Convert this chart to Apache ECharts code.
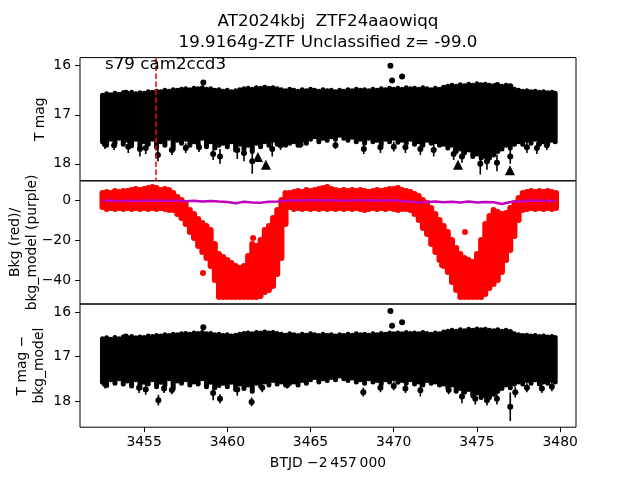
<!DOCTYPE html>
<html><head><meta charset="utf-8">
<script src="https://cdn.jsdelivr.net/npm/echarts@6/dist/echarts.min.js"></script>
<style>html,body{margin:0;padding:0;background:#fff}#c{width:640px;height:480px}</style>
</head><body><div id="c"></div>
<script>
// ---- Panel 1: T mag band [t, upper edge (brighter), lower edge (fainter)] ----
const band1 = [
[3452.50,16.60,17.55],[3452.75,16.57,17.62],[3453.00,16.59,17.50],[3453.25,16.56,17.58],[3453.50,16.58,17.48],
[3453.75,16.55,17.60],[3454.00,16.56,17.52],[3454.25,16.54,17.63],[3454.50,16.57,17.50],[3454.75,16.55,17.68],
[3455.00,16.56,17.55],[3455.25,16.53,17.60],[3455.50,16.54,17.50],[3455.75,16.52,17.66],[3456.00,16.53,17.55],
[3456.25,16.50,17.62],[3456.50,16.52,17.48],[3456.75,16.49,17.70],[3457.00,16.50,17.52],[3457.25,16.48,17.58],
[3457.50,16.47,17.50],[3457.75,16.49,17.62],[3458.00,16.46,17.55],[3458.25,16.47,17.60],[3458.50,16.45,17.48],
[3458.75,16.48,17.65],[3459.00,16.47,17.55],[3459.25,16.50,17.68],[3459.50,16.49,17.62],[3459.75,16.52,17.58],
[3460.00,16.50,17.65],[3460.25,16.53,17.55],[3460.50,16.51,17.72],[3460.75,16.49,17.60],[3461.00,16.47,17.70],
[3461.25,16.46,17.62],[3461.50,16.48,17.75],[3461.75,16.45,17.58],[3462.00,16.46,17.65],[3462.25,16.44,17.55],
[3462.50,16.46,17.62],[3462.75,16.45,17.52],[3463.00,16.47,17.60],[3463.25,16.49,17.55],[3463.50,16.51,17.62],
[3463.75,16.48,17.58],[3464.00,16.50,17.55],[3464.25,16.52,17.62],[3464.50,16.49,17.52],[3464.75,16.51,17.58],
[3465.00,16.48,17.50],[3465.25,16.50,17.45],[3465.50,16.52,17.55],[3465.75,16.49,17.48],[3466.00,16.51,17.52],
[3466.25,16.50,17.45],[3466.50,16.53,17.50],[3466.75,16.50,17.42],[3467.00,16.52,17.48],[3467.25,16.49,17.52],
[3467.50,16.51,17.46],[3467.75,16.48,17.55],[3468.00,16.50,17.50],[3468.25,16.49,17.58],[3468.50,16.51,17.48],
[3468.75,16.48,17.55],[3469.00,16.50,17.52],[3469.25,16.47,17.60],[3469.50,16.49,17.50],[3469.75,16.46,17.55],
[3470.00,16.48,17.48],[3470.25,16.46,17.56],[3470.50,16.48,17.52],[3470.75,16.45,17.58],[3471.00,16.47,17.50],
[3471.25,16.46,17.60],[3471.50,16.48,17.55],[3471.75,16.45,17.62],[3472.00,16.47,17.52],[3472.25,16.49,17.58],
[3472.50,16.46,17.55],[3472.75,16.48,17.62],[3473.00,16.44,17.60],[3473.25,16.42,17.68],[3473.50,16.40,17.62],
[3473.75,16.42,17.75],[3474.00,16.39,17.70],[3474.25,16.41,17.78],[3474.50,16.38,17.72],[3474.75,16.40,17.85],
[3475.00,16.37,17.80],[3475.25,16.39,17.88],[3475.50,16.38,17.85],[3475.75,16.40,17.88],[3476.00,16.41,17.82],
[3476.25,16.39,17.75],[3476.50,16.42,17.70],[3476.75,16.40,17.62],[3477.00,16.43,17.68],[3477.25,16.48,17.60],
[3477.50,16.50,17.55],[3477.75,16.52,17.60],[3478.00,16.51,17.52],[3478.25,16.53,17.58],[3478.50,16.52,17.50],
[3478.75,16.54,17.60],[3479.00,16.53,17.55],[3479.25,16.55,17.58],[3479.50,16.54,17.52],[3479.70,16.56,17.55]
];
// error-bar tails below the band: [t, point mag, tail mag]
const spikes1 = [
[3452.65,17.60,17.70],[3453.20,17.62,17.72],[3454.05,17.65,17.78],[3454.75,17.70,17.85],[3455.10,17.68,17.80],
[3455.83,17.82,17.95],[3456.67,17.72,17.82],[3457.50,17.68,17.78],[3458.30,17.66,17.76],[3459.15,17.80,17.92],
[3459.56,17.85,18.00],[3460.60,17.72,17.90],[3461.00,17.78,17.95],[3461.50,17.95,18.20],[3462.70,17.70,17.85],
[3463.20,17.62,17.72],[3464.40,17.60,17.68],[3466.50,17.62,17.70],[3468.20,17.70,17.80],[3469.20,17.66,17.78],
[3470.00,17.65,17.75],[3470.70,17.66,17.78],[3471.60,17.70,17.82],[3472.40,17.72,17.85],[3473.60,17.80,17.92],
[3474.10,17.85,17.98],[3475.20,18.00,18.22],[3475.60,17.95,18.12],[3476.20,17.98,18.15],[3477.00,17.85,18.00],
[3478.00,17.66,17.78],[3478.60,17.68,17.80],[3479.20,17.62,17.72]
];
const points1 = [[3453.9,16.55],[3458.56,16.34],[3469.8,16.0],[3469.9,16.3],[3470.5,16.22],[3476.2,16.40],[3477.0,16.42]];
const limits1 = [[3461.84,17.86],[3462.32,18.02],[3473.86,18.02],[3476.98,18.13]];
const markTime = 3455.71;

// ---- Panel 2: background (red) band [t, high, low] and model (purple) ----
const bkg = [
[3452.50,3.5,-3.5],[3452.75,4,-4.5],[3453.00,3.5,-4],[3453.25,4.5,-4.5],[3453.50,4,-4],[3453.75,4.5,-4.5],
[3454.00,4.5,-4],[3454.25,5,-4.5],[3454.50,5.5,-4],[3454.75,5,-4.5],[3455.00,5.5,-4],[3455.25,6,-4.5],
[3455.50,6.5,-4],[3455.75,6,-4.5],[3456.00,5,-4],[3456.25,5.5,-4.5],[3456.50,5,-5],[3456.75,3.5,-5],
[3457.00,1.5,-7],[3457.25,0,-9],[3457.50,-2,-12],[3457.75,-5,-16],[3458.00,-7,-19],[3458.25,-9.5,-23],
[3458.50,-11.5,-26],[3458.75,-13,-29],[3459.00,-15,-33],[3459.25,-22,-40],[3459.50,-27,-48.5],[3459.75,-28.5,-48.5],
[3460.00,-30,-48.5],[3460.25,-31.5,-48.5],[3460.50,-33,-48.5],[3460.75,-34,-48.5],[3461.00,-33,-48.5],[3461.25,-28,-48.5],
[3461.50,-22,-48.5],[3461.75,-23,-48.5],[3462.00,-20,-48],[3462.25,-15,-46],[3462.50,-13,-45],[3462.75,-9,-43],
[3463.00,-5,-37],[3463.25,0,-29],[3463.50,3.5,-12],[3463.75,3.5,-3.5],[3464.00,4,-4.5],[3464.25,4.5,-4],
[3464.50,4,-4.5],[3464.75,5,-4],[3465.00,4.5,-4.5],[3465.25,5,-4],[3465.50,5.5,-4.5],[3465.75,6,-4],
[3466.00,6.5,-4.5],[3466.25,5.5,-4],[3466.50,5,-4.5],[3466.75,4.5,-4],[3467.00,5,-4.5],[3467.25,4.5,-4],
[3467.50,5,-4.5],[3467.75,4.5,-4],[3468.00,5,-4.5],[3468.25,4.5,-5],[3468.50,4,-4.5],[3468.75,4.5,-4],
[3469.00,5,-4.5],[3469.25,4.5,-4],[3469.50,5,-4.5],[3469.75,5.5,-4],[3470.00,5.5,-4.5],[3470.25,6,-5],
[3470.50,5,-4.5],[3470.75,4.5,-4.5],[3471.00,4,-5],[3471.25,3,-7],[3471.50,2,-10],[3471.75,0,-14],
[3472.00,-1.5,-17],[3472.25,-4,-22],[3472.50,-7,-26],[3472.75,-10,-30],[3473.00,-13,-33],[3473.25,-16,-36],
[3473.50,-20,-41],[3473.75,-24,-45],[3474.00,-27,-48.5],[3474.25,-29,-48.5],[3474.50,-30,-48.5],[3474.75,-31,-48.5],
[3475.00,-27,-48.5],[3475.25,-20,-48.5],[3475.50,-12,-47],[3475.75,-8,-44],[3476.00,-5,-42],[3476.25,-6,-40],
[3476.50,-7,-36],[3476.75,-6.5,-30],[3477.00,-4,-25],[3477.25,-1.5,-18],[3477.50,1,-10],[3477.75,3.5,-5],
[3478.00,4,-4.5],[3478.25,4.5,-4],[3478.50,4,-4.5],[3478.75,4.5,-4],[3479.00,4,-4.5],[3479.25,4.5,-4],
[3479.50,4,-4.5],[3479.75,3.5,-4]
];
const bkgPoints = [[3458.54,-36.5],[3461.55,-19],[3474.28,-16],[3472.9,-32.5],[3476.0,-40]];
const bkgModel = [
[3452.5,-0.5],[3453,-0.3],[3453.5,-0.6],[3454,-0.4],[3454.5,-0.5],[3455,-0.3],[3455.5,-0.4],[3456,-0.2],
[3456.5,-0.5],[3457,-0.3],[3457.5,-0.6],[3458,-0.4],[3458.5,-0.7],[3459,-0.5],[3459.5,-0.8],[3460,-1.0],
[3460.5,-1.6],[3461,-0.9],[3461.5,-1.2],[3462,-1.4],[3462.5,-0.9],[3463,-0.7],[3463.5,-0.4],[3464,-0.3],
[3464.5,-0.2],[3465,0],[3465.5,-0.3],[3466,-0.1],[3466.5,-0.2],[3467,-0.4],[3467.5,-0.2],[3468,-0.3],
[3468.5,-0.1],[3469,-0.4],[3469.5,-0.3],[3470,-0.2],[3470.5,-0.5],[3471,-0.8],[3471.5,-1.2],[3472,-1.0],
[3472.5,-0.8],[3473,-1.1],[3473.5,-0.9],[3474,-1.3],[3474.5,-0.8],[3475,-1.2],[3475.5,-1.0],[3476,-1.1],
[3476.5,-2.0],[3477,-1.0],[3477.5,-0.6],[3478,-0.4],[3478.5,-0.3],[3479,-0.5],[3479.5,-0.4],[3479.75,-0.5]
];

// ---- Panel 3: T mag - bkg_model ----
const band3 = [
[3452.50,16.60,17.58],[3452.75,16.58,17.65],[3453.00,16.61,17.52],[3453.25,16.57,17.60],[3453.50,16.60,17.50],
[3453.75,16.56,17.62],[3454.00,16.58,17.55],[3454.25,16.55,17.66],[3454.50,16.58,17.52],[3454.75,16.56,17.70],
[3455.00,16.57,17.58],[3455.25,16.54,17.62],[3455.50,16.55,17.52],[3455.75,16.53,17.68],[3456.00,16.54,17.58],
[3456.25,16.51,17.64],[3456.50,16.53,17.50],[3456.75,16.50,17.72],[3457.00,16.51,17.55],[3457.25,16.49,17.60],
[3457.50,16.48,17.52],[3457.75,16.50,17.64],[3458.00,16.47,17.57],[3458.25,16.48,17.62],[3458.50,16.46,17.50],
[3458.75,16.49,17.68],[3459.00,16.48,17.58],[3459.25,16.51,17.70],[3459.50,16.50,17.65],[3459.75,16.53,17.60],
[3460.00,16.51,17.68],[3460.25,16.54,17.58],[3460.50,16.52,17.74],[3460.75,16.50,17.62],[3461.00,16.48,17.72],
[3461.25,16.47,17.64],[3461.50,16.49,17.78],[3461.75,16.46,17.60],[3462.00,16.47,17.66],[3462.25,16.45,17.57],
[3462.50,16.47,17.64],[3462.75,16.46,17.54],[3463.00,16.48,17.62],[3463.25,16.50,17.57],[3463.50,16.52,17.64],
[3463.75,16.49,17.60],[3464.00,16.51,17.57],[3464.25,16.53,17.64],[3464.50,16.50,17.54],[3464.75,16.52,17.60],
[3465.00,16.49,17.52],[3465.25,16.51,17.47],[3465.50,16.53,17.57],[3465.75,16.50,17.50],[3466.00,16.52,17.54],
[3466.25,16.51,17.47],[3466.50,16.54,17.52],[3466.75,16.51,17.44],[3467.00,16.53,17.50],[3467.25,16.50,17.54],
[3467.50,16.52,17.48],[3467.75,16.49,17.57],[3468.00,16.51,17.52],[3468.25,16.50,17.60],[3468.50,16.52,17.50],
[3468.75,16.49,17.57],[3469.00,16.51,17.54],[3469.25,16.48,17.62],[3469.50,16.50,17.52],[3469.75,16.47,17.57],
[3470.00,16.49,17.50],[3470.25,16.47,17.58],[3470.50,16.49,17.54],[3470.75,16.46,17.60],[3471.00,16.48,17.52],
[3471.25,16.47,17.62],[3471.50,16.49,17.57],[3471.75,16.46,17.64],[3472.00,16.48,17.54],[3472.25,16.50,17.60],
[3472.50,16.47,17.57],[3472.75,16.49,17.64],[3473.00,16.45,17.62],[3473.25,16.43,17.70],[3473.50,16.41,17.64],
[3473.75,16.43,17.78],[3474.00,16.40,17.72],[3474.25,16.42,17.80],[3474.50,16.39,17.74],[3474.75,16.41,17.88],
[3475.00,16.38,17.82],[3475.25,16.40,17.92],[3475.50,16.39,17.88],[3475.75,16.41,17.92],[3476.00,16.42,17.85],
[3476.25,16.40,17.78],[3476.50,16.43,17.72],[3476.75,16.41,17.64],[3477.00,16.44,17.70],[3477.25,16.49,17.62],
[3477.50,16.51,17.57],[3477.75,16.53,17.62],[3478.00,16.52,17.54],[3478.25,16.54,17.60],[3478.50,16.53,17.52],
[3478.75,16.55,17.62],[3479.00,16.54,17.57],[3479.25,16.56,17.60],[3479.50,16.55,17.54],[3479.70,16.57,17.57]
];
const spikes3 = [
[3452.65,17.62,17.72],[3454.70,17.70,17.82],[3455.10,17.74,17.86],[3455.86,17.98,18.10],[3456.20,17.72,17.82],
[3456.67,17.75,17.85],[3459.15,17.82,17.98],[3459.56,17.95,18.05],[3460.60,17.74,17.88],[3461.46,18.02,18.12],
[3462.10,17.70,17.80],[3463.60,17.64,17.72],[3468.17,17.80,17.90],[3469.20,17.70,17.80],[3470.00,17.66,17.76],
[3470.70,17.72,17.82],[3471.60,17.76,17.90],[3473.30,17.75,17.85],[3474.10,17.90,18.05],[3474.90,17.95,18.08],
[3475.60,17.98,18.10],[3476.20,17.95,18.08],[3477.00,18.13,18.45],[3477.30,17.80,17.92],[3478.00,17.70,17.80],
[3478.90,17.72,17.82],[3479.50,17.68,17.78]
];
const points3 = [[3453.9,16.55],[3458.56,16.34],[3469.8,15.98],[3469.9,16.31],[3470.5,16.23],[3476.2,16.44],[3477.0,16.46]];

// ---- tick values ----
const xTicks = [3455,3460,3465,3470,3475,3480];
const yTicks1 = [16,17,18];
const yTicks2 = [0,-20,-40];
const yTicks3 = [16,17,18];

const FONT = 'DejaVu Sans';
const TICK = 13.9;
const minus = v => String(v).replace('-', '\u2212');

function bandItem(color, width) {
  return function (params, api) {
    const a = api.coord([api.value(0), api.value(1)]);
    const b = api.coord([api.value(0), api.value(2)]);
    return {type:'line', shape:{x1:a[0], y1:a[1], x2:b[0], y2:b[1]},
      style:{stroke:color, lineWidth:width, lineCap:'round'}};
  };
}
function spikeItem(params, api) {
  const t = api.value(0), p = api.value(1), tail = api.value(2);
  const top = api.coord([t, 2*p - tail]);
  const bot = api.coord([t, tail]);
  const c = api.coord([t, p]);
  return {type:'group', children:[
    {type:'line', shape:{x1:top[0], y1:top[1], x2:bot[0], y2:bot[1]}, style:{stroke:'#000', lineWidth:1.6}},
    {type:'circle', shape:{cx:c[0], cy:c[1], r:3}, style:{fill:'#000'}}
  ]};
}

const grids = [57.6, 180.8, 304].map(top => ({
  left:80, width:496, top:top, height:123.2, show:true, borderColor:'#000', borderWidth:1, backgroundColor:'transparent'
}));
const XMIN = 3451.15, XMAX = 3480.95;
const xAxes = [0,1,2].map(i => ({
  type:'value', gridIndex:i, min:XMIN, max:XMAX,
  axisLine:{show:false}, splitLine:{show:false},
  axisTick:{show:i===2, length:5, customValues:xTicks, lineStyle:{color:'#000', width:1}},
  axisLabel:{show:i===2, customValues:xTicks, color:'#000', fontSize:TICK, fontFamily:FONT, margin:8, formatter:v => String(v)}
}));
function yAx(i, min, max, inverse, ticks) {
  return {type:'value', gridIndex:i, min:min, max:max, inverse:inverse,
    axisLine:{show:false}, splitLine:{show:false},
    axisTick:{show:true, length:5, customValues:ticks, lineStyle:{color:'#000', width:1}},
    axisLabel:{customValues:ticks, color:'#000', fontSize:TICK, fontFamily:FONT, margin:9, formatter:minus}};
}
const yAxes = [
  yAx(0, 15.835, 18.346, true, yTicks1),
  yAx(1, -52, 9.6, false, yTicks2),
  yAx(2, 15.82, 18.588, true, yTicks3)
];
const dot = {color:'#000', opacity:1};
const textStyle = (f) => ({fill:'#000', font:f + 'px "DejaVu Sans"', textAlign:'center', textVerticalAlign:'middle'});

const option = {
  animation:false,
  backgroundColor:'#fff',
  grid:grids, xAxis:xAxes, yAxis:yAxes,
  series:[
    {type:'line', xAxisIndex:0, yAxisIndex:0, data:[], z:1, silent:true,
      markLine:{silent:true, symbol:'none', label:{show:false},
        lineStyle:{color:'#ff0000', type:[5.5,2.5], width:1.5},
        data:[{xAxis:markTime}]}},
    {type:'custom', xAxisIndex:0, yAxisIndex:0, data:band1, renderItem:bandItem('#000',5), encode:{x:0,y:[1,2]}, z:3, clip:true},
    {type:'custom', xAxisIndex:0, yAxisIndex:0, data:spikes1, renderItem:spikeItem, encode:{x:0,y:[1,2]}, z:3, clip:true},
    {type:'scatter', xAxisIndex:0, yAxisIndex:0, data:points1, symbol:'circle', symbolSize:6, itemStyle:dot, z:4},
    {type:'scatter', xAxisIndex:0, yAxisIndex:0, data:limits1, symbol:'triangle', symbolSize:10, itemStyle:dot, z:4},

    {type:'custom', xAxisIndex:1, yAxisIndex:1, data:bkg, renderItem:bandItem('#ff0000',6), encode:{x:0,y:[1,2]}, z:3, clip:true},
    {type:'scatter', xAxisIndex:1, yAxisIndex:1, data:bkgPoints, symbol:'circle', symbolSize:6, itemStyle:{color:'#ff0000', opacity:1}, z:3},
    {type:'line', xAxisIndex:1, yAxisIndex:1, data:bkgModel, showSymbol:false, lineStyle:{color:'#bf00bf', width:2.5}, z:5},

    {type:'custom', xAxisIndex:2, yAxisIndex:2, data:band3, renderItem:bandItem('#000',5), encode:{x:0,y:[1,2]}, z:3, clip:true},
    {type:'custom', xAxisIndex:2, yAxisIndex:2, data:spikes3, renderItem:spikeItem, encode:{x:0,y:[1,2]}, z:3, clip:true},
    {type:'scatter', xAxisIndex:2, yAxisIndex:2, data:points3, symbol:'circle', symbolSize:6, itemStyle:dot, z:4}
  ],
  graphic:[
    {type:'text', x:328, y:21.7, style:Object.assign({text:'AT2024kbj  ZTF24aaowiqq'}, textStyle(16.7))},
    {type:'text', x:328, y:42.7, style:Object.assign({text:'19.9164g-ZTF Unclassified z= -99.0'}, textStyle(16.7))},
    {type:'text', x:105, y:65, z:10, style:Object.assign({text:'s79 cam2ccd3'}, textStyle(16.7), {textAlign:'left'})},
    {type:'text', x:328, y:463, style:Object.assign({text:'BTJD \u22122\u2009457\u2009000'}, textStyle(13.9))},
    {type:'text', x:40, y:119.2, rotation:Math.PI/2, style:Object.assign({text:'T mag'}, textStyle(13.9))},
    {type:'text', x:15.5, y:242.4, rotation:Math.PI/2, style:Object.assign({text:'Bkg (red)/'}, textStyle(13.9))},
    {type:'text', x:32, y:242.4, rotation:Math.PI/2, style:Object.assign({text:'bkg_model (purple)'}, textStyle(13.9))},
    {type:'text', x:22, y:365.6, rotation:Math.PI/2, style:Object.assign({text:'T mag \u2212'}, textStyle(13.9))},
    {type:'text', x:39, y:365.6, rotation:Math.PI/2, style:Object.assign({text:'bkg_model'}, textStyle(13.9))}
  ]
};
const chart = echarts.init(document.getElementById('c'), null, {renderer:'canvas'});
chart.setOption(option);
</script>
</body></html>
